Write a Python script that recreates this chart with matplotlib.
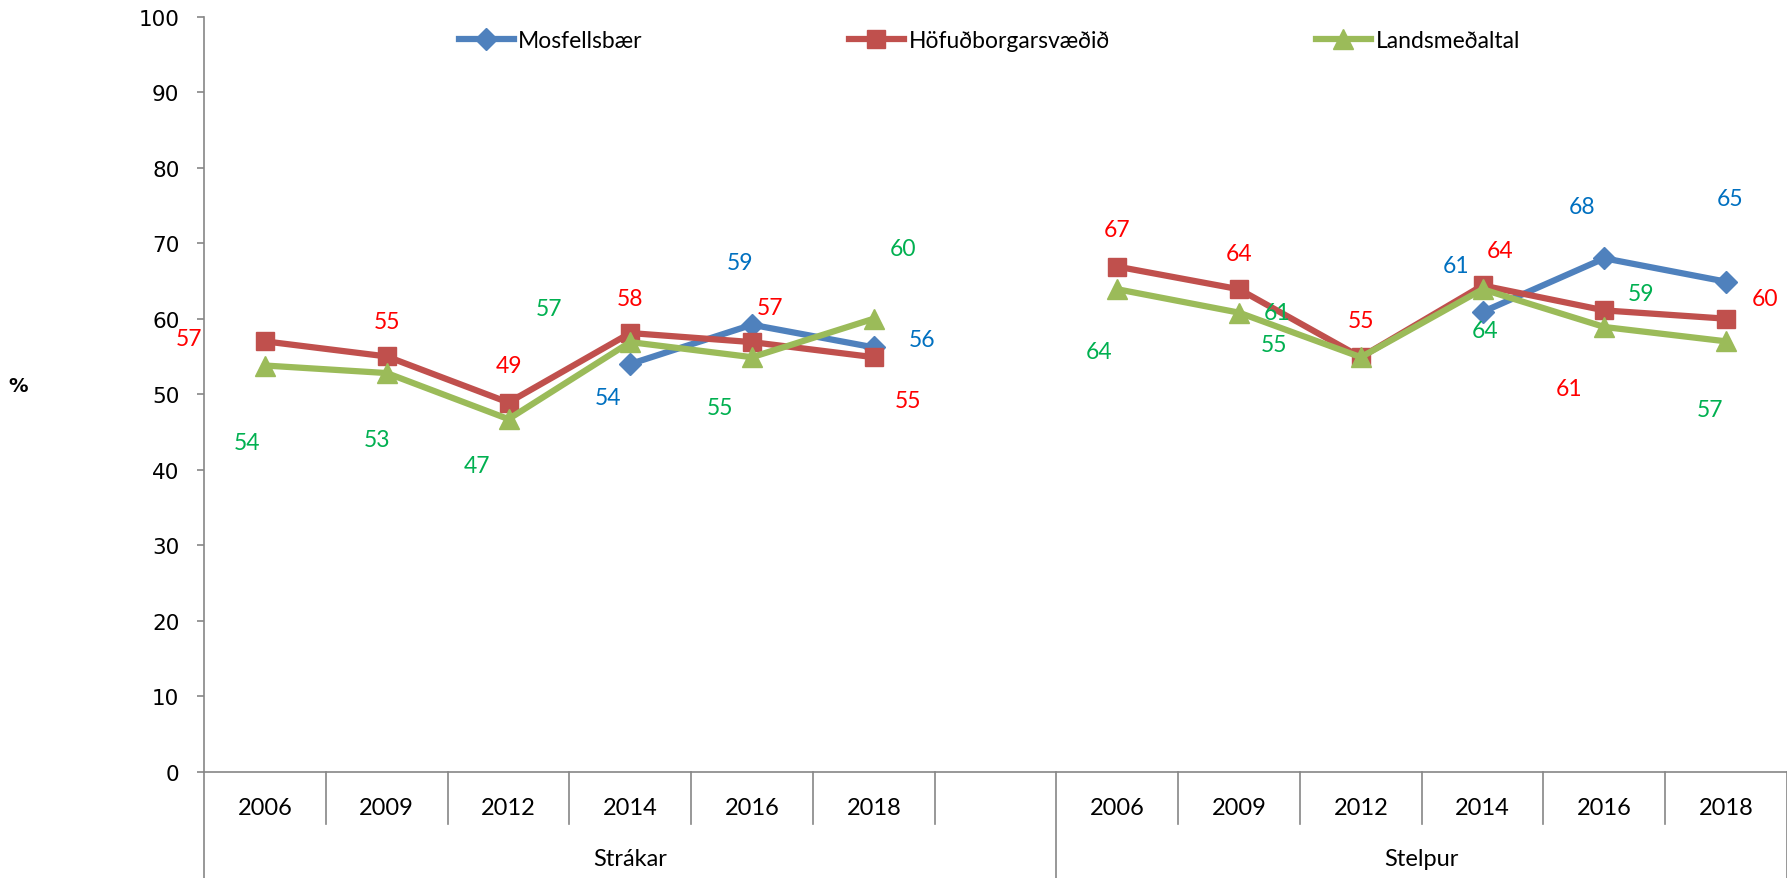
import numpy as np
import matplotlib.pyplot as plt
import matplotlib.transforms as mtransforms

nan = np.nan

# data
years = ['2006', '2009', '2012', '2014', '2016', '2018']
groups = ['Strákar', 'Stelpur']
series_names = ['Mosfellsbær', 'Höfuðborgarsvæðið', 'Landsmeðaltal']

mos_strakar = [nan, nan, nan, 54, 59.2, 56.2]
hof_strakar = [57, 55, 48.9, 58.1, 56.9, 54.9]
lands_strakar = [53.8, 52.8, 46.7, 56.9, 54.9, 60]

mos_stelpur = [nan, nan, nan, 60.9, 68, 64.9]
hof_stelpur = [66.9, 63.9, 54.9, 64.4, 61.1, 60]
lands_stelpur = [63.9, 60.8, 54.9, 63.9, 58.9, 57.0]

# where the data labels sit relative to their point (slots, percent)
mos_offsets = [None, None, None, (-0.18, -4.4), (-0.10, 8.3), (0.40, 1.1),
               None,
               None, None, None, (-0.22, 6.2), (-0.18, 6.8), (0.03, 11.0)]
hof_offsets = [(-0.62, 0.4), (0, 4.6), (0, 4.9), (0, 4.6), (0.15, 4.6), (0.28, -5.8),
               None,
               (0, 4.9), (0, 4.8), (0, 4.8), (0.14, 4.6), (-0.29, -10.3), (0.32, 2.7)]
lands_offsets = [(-0.15, -10.2), (-0.08, -8.8), (-0.26, -6.2), (-0.67, 4.5), (-0.26, -6.6), (0.24, 9.3),
                 None,
                 (-0.15, -8.3), (0.31, 0.0), (-0.71, 1.7), (0.02, -5.4), (0.30, 4.5), (-0.13, -9.0)]

line_colors = ['#4F81BD', '#C0504D', '#9BBB59']
label_colors = ['#0070C0', '#FF0000', '#00B050']
markers = ['D', 's', '^']
marker_sizes = [11, 13, 14]

W, H = 1787, 879
fig = plt.figure(figsize=(W / 100, H / 100), dpi=100)
ax_left, ax_right, ax_top, ax_bottom = 204.1, 1787, 17.7, 772.7
ax = fig.add_axes([ax_left / W, 1 - ax_bottom / H, (ax_right - ax_left) / W, (ax_bottom - ax_top) / H])

n_slots = len(years) * 2 + 1
x = np.arange(n_slots)
all_series = [mos_strakar + [nan] + mos_stelpur,
              hof_strakar + [nan] + hof_stelpur,
              lands_strakar + [nan] + lands_stelpur]
all_offsets = [mos_offsets, hof_offsets, lands_offsets]

handles = []
for i, (vals, name) in enumerate(zip(all_series, series_names)):
    h, = ax.plot(x, vals, color=line_colors[i], lw=4.5, marker=markers[i],
                 ms=marker_sizes[i], mec=line_colors[i], mfc=line_colors[i],
                 solid_joinstyle='round', label=name, zorder=2 + i, clip_on=False)
    handles.append(h)

for i, vals in enumerate(all_series):
    for xi, v, off in zip(x, vals, all_offsets[i]):
        if np.isnan(v) or off is None:
            continue
        ax.text(xi + off[0], v + off[1], f'{v:.0f}', color=label_colors[i],
                fontsize=16.5, family='Lato', ha='center', va='center', zorder=10)

ax.set_xlim(-0.5, n_slots - 0.5)
ax.set_ylim(0, 100)
ax.set_yticks(range(0, 101, 10))
ax.set_xticks([])
for s in ['top', 'right']:
    ax.spines[s].set_visible(False)
for s in ['left', 'bottom']:
    ax.spines[s].set_color('#868686')
    ax.spines[s].set_linewidth(1.2)
ax.tick_params(axis='y', direction='out', length=5.3, width=1.2, color='#868686',
               labelsize=15.5, pad=12.5)
for lbl in ax.get_yticklabels():
    lbl.set_family('DejaVu Sans')

# category axis: year cells and group cells
trans = mtransforms.blended_transform_factory(ax.transData, ax.transAxes)
short_drop = -(825 - ax_bottom) / (ax_bottom - ax_top)
long_drop = -(H - ax_bottom) / (ax_bottom - ax_top)
year_y = -(809 - ax_bottom) / (ax_bottom - ax_top)
group_y = -(860 - ax_bottom) / (ax_bottom - ax_top)

group_edges = [-0.5, len(years) + 0.5, n_slots - 0.5]
for b in np.arange(-0.5, n_slots, 1.0):
    bottom = long_drop if b in group_edges else short_drop
    xb = min(b, n_slots - 0.5 - 0.004)
    ax.plot([xb, xb], [0, bottom], transform=trans, color='#868686', lw=1.2, clip_on=False)

year_positions = list(range(len(years))) + list(range(len(years) + 1, n_slots))
for pos, yr in zip(year_positions, years + years):
    ax.text(pos, year_y, yr, transform=trans, ha='center', va='center',
            fontsize=17, family='Lato')
ax.text((group_edges[0] + group_edges[1]) / 2, group_y, groups[0], transform=trans,
        ha='center', va='center', fontsize=17, family='Lato')
ax.text((group_edges[1] + group_edges[2]) / 2, group_y, groups[1], transform=trans,
        ha='center', va='center', fontsize=17, family='Lato')

fig.text(18 / W, 1 - 387 / H, '%', fontsize=14, fontweight='bold',
         family='DejaVu Sans', ha='center', va='center')

leg = ax.legend(handles=handles, loc='center', bbox_to_anchor=(0.4960, 0.968), ncol=3,
                frameon=False, handlelength=2.4, handletextpad=0.2, columnspacing=9.0,
                prop={'family': 'Lato', 'size': 16.5})

fig.savefig('out.png', dpi=100)
